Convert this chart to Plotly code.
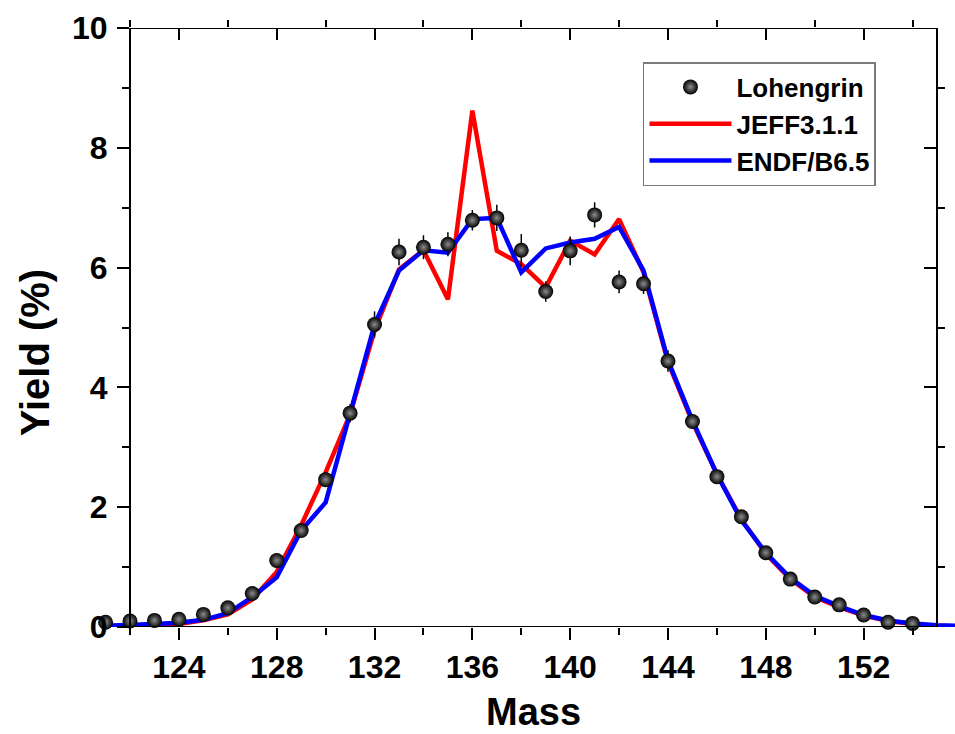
import plotly.graph_objects as go

# ---- data ----
mass_exp = list(range(121, 155))
yield_exp = [0.08, 0.10, 0.11, 0.13, 0.21, 0.32, 0.56, 1.11, 1.61, 2.46, 3.57, 5.05,
             6.26, 6.34, 6.39, 6.79, 6.83, 6.29, 5.60, 6.28, 6.88, 5.76, 5.73, 4.44,
             3.43, 2.51, 1.84, 1.24, 0.80, 0.50, 0.37, 0.20, 0.08, 0.06]
err_exp = [0.03, 0.03, 0.03, 0.03, 0.04, 0.05, 0.06, 0.08, 0.10, 0.12, 0.15, 0.22,
           0.22, 0.20, 0.20, 0.17, 0.22, 0.27, 0.17, 0.24, 0.21, 0.19, 0.17, 0.18,
           0.12, 0.10, 0.08, 0.06, 0.05, 0.04, 0.03, 0.03, 0.02, 0.02]

mass_eval = list(range(121, 157))
jeff = [0.01, 0.02, 0.03, 0.05, 0.11, 0.21, 0.46, 0.92, 1.70, 2.58, 3.55, 4.95,
        5.97, 6.29, 5.47, 8.62, 6.28, 6.06, 5.67, 6.45, 6.22, 6.81, 5.92, 4.42,
        3.42, 2.55, 1.80, 1.22, 0.80, 0.50, 0.33, 0.19, 0.10, 0.05, 0.02, 0.01]
endf = [0.02, 0.03, 0.05, 0.07, 0.12, 0.23, 0.50, 0.83, 1.61, 2.08, 3.57, 5.05,
        5.95, 6.29, 6.25, 6.81, 6.83, 5.92, 6.32, 6.42, 6.48, 6.68, 5.95, 4.45,
        3.45, 2.55, 1.78, 1.24, 0.82, 0.52, 0.35, 0.20, 0.11, 0.06, 0.03, 0.02]

x_major = [124, 128, 132, 136, 140, 144, 148, 152]
x_minor = [122, 126, 130, 134, 138, 142, 146, 150, 154]
y_major = [0, 2, 4, 6, 8, 10]
y_minor = [1, 3, 5, 7, 9]
frame_x = [122, 155]
frame_y = [0, 10]
x_view = [119.955, 155.736]

FONT = "Liberation Sans"

fig = go.Figure()
fig.add_trace(go.Scatter(x=mass_eval, y=jeff, mode="lines", name="JEFF3.1.1",
                         line=dict(color="#ff0000", width=4.5), legendrank=2))
fig.add_trace(go.Scatter(x=mass_eval, y=endf, mode="lines", name="ENDF/B6.5",
                         line=dict(color="#0000ff", width=4.5), legendrank=3))
fig.add_trace(go.Scatter(x=mass_exp, y=yield_exp, mode="markers", name="Lohengrin",
                         error_y=dict(type="data", array=err_exp, width=0, thickness=1.5,
                                      color="black"),
                         marker=dict(color="#000000", size=15, line=dict(width=0),
                                     gradient=dict(type="radial", color="#8c8c8c")),
                         cliponaxis=False, legendrank=1))
# invisible trace to activate mirror axes
fig.add_trace(go.Scatter(x=mass_exp[:1], y=yield_exp[:1], xaxis="x2", yaxis="y2",
                         mode="markers", marker=dict(opacity=0), showlegend=False,
                         hoverinfo="skip"))

plot_l, plot_w = 80, 875
def xpaper(v):
    return (v - x_view[0]) / (x_view[1] - x_view[0])

tickfont = dict(family=FONT, size=32, color="black", weight=700)
common_x = dict(range=x_view, tickmode="array", tickvals=x_major, ticklen=12, tickwidth=2,
                tickcolor="black", showgrid=False, zeroline=False, showline=False,
                minor=dict(tickmode="array", tickvals=x_minor, ticklen=7, tickwidth=2,
                           tickcolor="black", showgrid=False),
                automargin=False)
common_y = dict(range=frame_y, tickmode="array", tickvals=y_major, ticklen=12, tickwidth=2,
                tickcolor="black", showgrid=False, zeroline=False, showline=True,
                linecolor="black", linewidth=2, anchor="free",
                minor=dict(tickmode="array", tickvals=y_minor, ticklen=7, tickwidth=2,
                           tickcolor="black", showgrid=False),
                automargin=False)

fig.update_layout(
    width=955, height=734,
    margin=dict(l=plot_l, r=0, t=28, b=107),
    paper_bgcolor="white", plot_bgcolor="white",
    xaxis=dict(**common_x, ticks="outside", tickfont=tickfont, anchor="y"),
    xaxis2=dict(**common_x, ticks="inside", showticklabels=False, overlaying="x",
                side="top", anchor="y"),
    yaxis=dict(**common_y, ticks="outside", tickfont=tickfont, position=xpaper(frame_x[0]),
               ticklabelstandoff=3),
    yaxis2=dict(**common_y, ticks="inside", showticklabels=False, overlaying="y",
                side="right", position=xpaper(frame_x[1])),
    showlegend=True,
    legend=dict(x=0.6434, y=0.9432, xanchor="left", yanchor="top",
                bgcolor="white", bordercolor="#7a7a7a", borderwidth=1.5,
                font=dict(family=FONT, size=26, color="black", weight=700),
                itemwidth=82, tracegroupgap=0),
    shapes=[
        dict(type="line", xref="x", yref="y", x0=frame_x[0], x1=frame_x[1],
             y0=frame_y[0], y1=frame_y[0], line=dict(color="black", width=2)),
        dict(type="line", xref="x", yref="y", x0=frame_x[0], x1=frame_x[1],
             y0=frame_y[1], y1=frame_y[1], line=dict(color="black", width=2)),
    ],
    annotations=[
        dict(text="Mass", xref="paper", yref="paper", x=xpaper(138.5), y=-0.142,
             xanchor="center", yanchor="middle", showarrow=False,
             font=dict(family=FONT, size=38, color="black", weight=700)),
        dict(text="Yield (%)", xref="paper", yref="paper", x=(35 - plot_l) / plot_w,
             y=0.457, xanchor="center", yanchor="middle", showarrow=False, textangle=-90,
             font=dict(family=FONT, size=40, color="black", weight=700)),
    ],
)

fig.write_html("out.html")
